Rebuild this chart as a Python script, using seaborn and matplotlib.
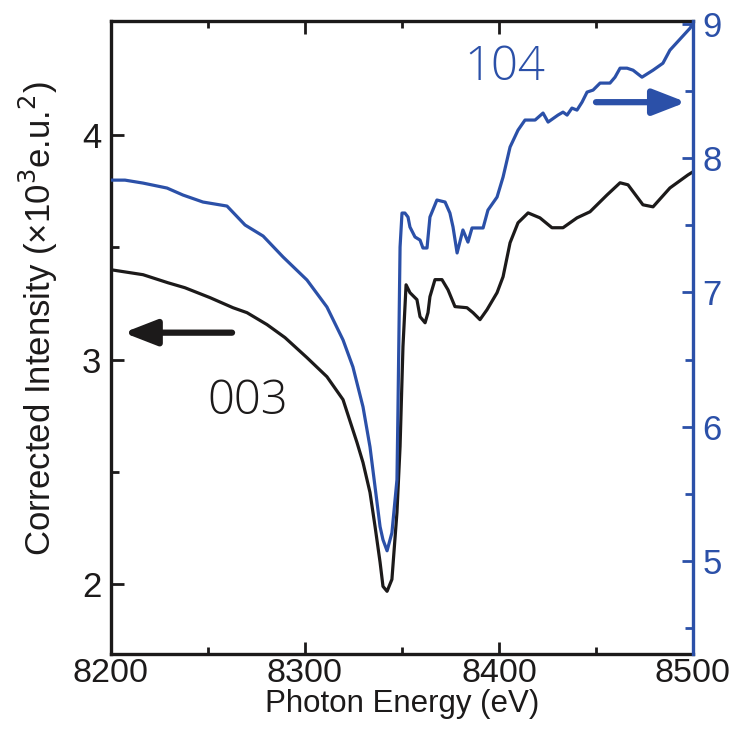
import matplotlib
matplotlib.use("Agg")
import matplotlib.pyplot as plt
from matplotlib import font_manager
from matplotlib.ticker import FixedLocator
import seaborn as sns
import pandas as pd

# ---- data ----
energy_003 = [8200.0, 8216.5, 8229.4, 8238.1, 8251.0, 8262.9, 8270.1, 8280.4, 8289.7, 8301.0,
              8311.3, 8319.6, 8326.8, 8329.9, 8333.5, 8336.1, 8338.7, 8340.2, 8342.3, 8344.8,
              8347.4, 8349.0, 8350.5, 8352.1, 8354.1, 8357.7, 8359.3, 8361.9, 8363.4, 8364.4,
              8367.0, 8370.6, 8373.7, 8377.3, 8383.5, 8386.6, 8390.2, 8393.8, 8399.0, 8402.1,
              8405.7, 8409.8, 8415.0, 8421.1, 8427.3, 8433.0, 8440.2, 8446.9, 8455.7, 8462.4,
              8466.5, 8474.2, 8479.4, 8488.1, 8497.4, 8500.0]
intensity_003 = [3.400, 3.378, 3.342, 3.320, 3.276, 3.231, 3.209, 3.156, 3.098, 3.009,
                 2.924, 2.822, 2.631, 2.542, 2.409, 2.258, 2.098, 1.991, 1.969, 2.022,
                 2.320, 2.613, 3.058, 3.333, 3.298, 3.267, 3.191, 3.164, 3.209, 3.280,
                 3.356, 3.356, 3.311, 3.236, 3.231, 3.209, 3.178, 3.222, 3.298, 3.369,
                 3.520, 3.609, 3.653, 3.631, 3.587, 3.587, 3.631, 3.658, 3.733, 3.787,
                 3.778, 3.689, 3.680, 3.764, 3.822, 3.836]

energy_104 = [8200.0, 8207.2, 8216.5, 8228.9, 8237.1, 8247.4, 8259.8, 8269.1, 8278.4, 8288.7,
              8301.0, 8311.3, 8319.6, 8324.7, 8329.9, 8333.5, 8336.1, 8338.7, 8340.2, 8342.3,
              8344.8, 8347.4, 8347.9, 8349.0, 8350.0, 8351.5, 8353.1, 8354.1, 8356.7, 8359.3,
              8360.8, 8362.9, 8364.4, 8368.0, 8372.2, 8374.7, 8376.3, 8378.4, 8381.4, 8384.0,
              8386.1, 8391.8, 8394.3, 8399.0, 8402.1, 8405.7, 8409.8, 8413.4, 8418.6, 8422.7,
              8425.3, 8430.4, 8433.0, 8435.1, 8437.6, 8440.2, 8442.8, 8445.4, 8448.5, 8452.1,
              8457.2, 8459.8, 8462.4, 8466.0, 8469.1, 8473.7, 8479.4, 8484.5, 8488.1, 8498.5,
              8500.0]
intensity_104 = [7.836, 7.836, 7.814, 7.777, 7.725, 7.673, 7.643, 7.502, 7.420, 7.264,
                 7.093, 6.892, 6.647, 6.446, 6.149, 5.851, 5.554, 5.257, 5.160, 5.078,
                 5.212, 5.606, 6.104, 7.338, 7.591, 7.591, 7.561, 7.487, 7.413, 7.390,
                 7.331, 7.331, 7.561, 7.688, 7.673, 7.591, 7.487, 7.294, 7.465, 7.375,
                 7.480, 7.480, 7.613, 7.710, 7.859, 8.082, 8.208, 8.283, 8.283, 8.335,
                 8.268, 8.320, 8.342, 8.320, 8.372, 8.357, 8.416, 8.491, 8.506, 8.558,
                 8.558, 8.602, 8.669, 8.669, 8.654, 8.602, 8.654, 8.706, 8.803, 8.967,
                 9.000]

x_ticks = [8200, 8300, 8400, 8500]
left_ticks = [2, 3, 4]
right_ticks = [5, 6, 7, 8, 9]

BLACK = "#1c1a1a"
BLUE = "#2b50a8"

# ---- fonts ----
sns.set_style("ticks")
names = {f.name for f in font_manager.fontManager.ttflist}
narrow = "Liberation Sans Narrow" if "Liberation Sans Narrow" in names else "Liberation Sans"
plt.rcParams["font.family"] = [narrow, "DejaVu Sans"]

fig = plt.figure(figsize=(7.37, 7.31), dpi=100)
AX_BOTTOM = 654
ax = fig.add_axes([111 / 737, 1 - AX_BOTTOM / 731, (693 - 111) / 737, (AX_BOTTOM - 21) / 731])
ax2 = ax.twinx()

df003 = pd.DataFrame({"E": energy_003, "I": intensity_003})
df104 = pd.DataFrame({"E": energy_104, "I": intensity_104})
sns.lineplot(data=df003, x="E", y="I", ax=ax, color=BLACK, lw=2.3, estimator=None, sort=False)
sns.lineplot(data=df104, x="E", y="I", ax=ax2, color=BLUE, lw=2.3, estimator=None, sort=False)

ax.set_xlim(8200, 8500)
ax.set_ylim(1.69, 4.507)
ax2.set_ylim(4.31, 9.02)

ax.set_xticks(x_ticks)
ax.xaxis.set_minor_locator(FixedLocator([8250, 8350, 8450]))
ax.set_yticks(left_ticks)
ax.yaxis.set_minor_locator(FixedLocator([2.5, 3.5]))
ax2.set_yticks(right_ticks)
ax2.yaxis.set_minor_locator(FixedLocator([4.5, 5.5, 6.5, 7.5, 8.5]))

TS = 25
ax.tick_params(axis="x", which="both", direction="in", top=True, labelsize=24.5, colors=BLACK, width=2, pad=3)
ax.tick_params(axis="x", which="major", length=9)
ax.tick_params(axis="x", which="minor", length=5)
ax.tick_params(axis="y", which="both", direction="in", labelsize=TS, colors=BLACK, width=2, pad=7)
ax.tick_params(axis="y", which="major", length=9)
ax.tick_params(axis="y", which="minor", length=6)
ax2.tick_params(axis="y", which="both", direction="in", labelsize=TS, colors=BLUE, width=2, pad=7)
ax2.tick_params(axis="y", which="major", length=8)
ax2.tick_params(axis="y", which="minor", length=6)

for s in ["left", "bottom", "top"]:
    ax.spines[s].set_linewidth(2.4)
    ax.spines[s].set_color(BLACK)
ax.spines["right"].set_visible(False)
for s in ["left", "bottom", "top"]:
    ax2.spines[s].set_visible(False)
ax2.spines["right"].set_linewidth(2.4)
ax2.spines["right"].set_color(BLUE)

ax.set_xlabel("Photon Energy (eV)", fontsize=22.5, color=BLACK, labelpad=0)
ax.set_ylabel("Corrected Intensity (×10$^{3}$e.u.$^{2}$)", fontsize=25, color=BLACK)
ax.yaxis.set_label_coords(-0.125, 0.53)
ax.yaxis.label.set_va("center")
ax2.set_ylabel("")

# annotations
ax.text(8270.6, 2.813, "003", fontsize=34, color=BLACK, ha="center", va="center",
        family=["Open Sans", "DejaVu Sans"], fontweight="light")
ax2.text(8403, 8.669, "104", fontsize=34, color=BLUE, ha="center", va="center",
         family=["Open Sans", "DejaVu Sans"], fontweight="light")

ax.annotate("", xy=(8206.5, 3.12), xytext=(8262.4, 3.12),
            arrowprops=dict(arrowstyle="-|>,head_length=0.9,head_width=0.35", lw=4.5,
                            color=BLACK, shrinkA=0, shrinkB=0, mutation_scale=22))
ax2.annotate("", xy=(8496.5, 8.416), xytext=(8450, 8.416),
             arrowprops=dict(arrowstyle="-|>,head_length=0.9,head_width=0.35", lw=4.5,
                             color=BLUE, shrinkA=0, shrinkB=0, mutation_scale=22))

fig.savefig("out.png", dpi=100)
